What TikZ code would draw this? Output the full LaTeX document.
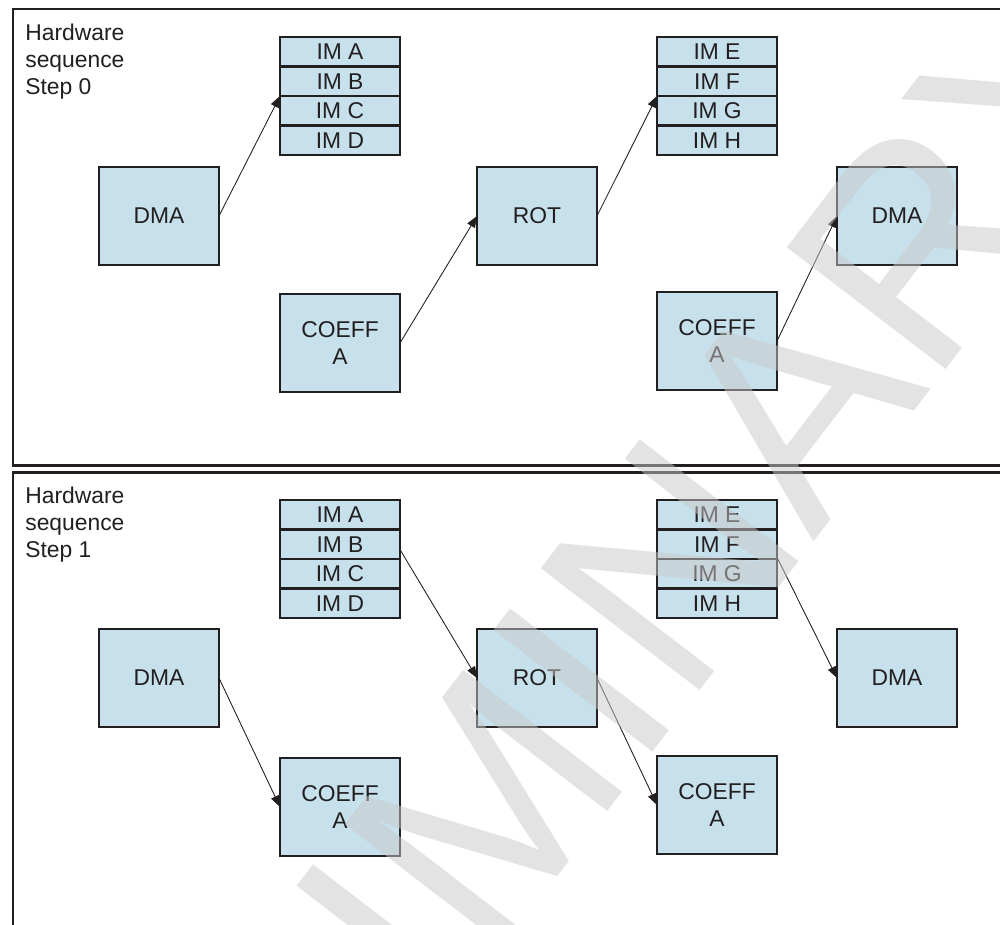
\documentclass[tikz,border=0pt]{standalone}
\usepackage{fontspec}
\setmainfont{Liberation Sans}
\usetikzlibrary{arrows.meta,positioning}
\definecolor{boxblue}{RGB}{198,225,236}
\definecolor{inkgray}{RGB}{35,31,32}
\definecolor{wmgray}{RGB}{200,200,200}
\tikzset{
  panel/.style={draw=inkgray,line width=1.7pt},
  unit/.style={draw=inkgray,fill=boxblue,line width=1.2pt,minimum width=2.4cm,minimum height=1.96cm,align=center,inner sep=0pt,outer sep=0pt,text=inkgray,font=\fontsize{13}{15}\selectfont},
  imrow/.style={unit,minimum height=0.59cm},
  caption/.style={anchor=north west,align=left,inner sep=0pt,text=inkgray,font=\fontsize{13}{15.2}\selectfont},
  arrow/.style={-{Triangle[length=6.5pt,width=5pt]},line width=0.5pt,draw=inkgray},
  watermark/.style={inner sep=0pt,text=wmgray,text opacity=0.5,font=\fontsize{165.6}{166}\selectfont}
}

\begin{document}
\begin{tikzpicture}[x=0.02cm,y=-0.02cm]
\useasboundingbox (0,0) rectangle (1000,924);
\clip (0,0) rectangle (1000,924);
\fill[white] (0,0) rectangle (1000,924);

% Step 0 panel
\draw[panel] (13,9) rectangle (1020,465);
\node[caption] (cap0) at (25,24) {Hardware\\sequence\\Step 0};
\foreach \n [count=\i from 0] in {A,B,C,D}
  \node[imrow] (im\n0) at (340,{51.75+29.5*\i}) {IM \n};
\foreach \n [count=\i from 0] in {E,F,G,H}
  \node[imrow] (im\n0) at (717,{51.75+29.5*\i}) {IM \n};
\node[unit] (dmaL0) at (159,216) {DMA};
\node[unit] (rot0) at (537,216) {ROT};
\node[unit] (dmaR0) at (897,216) {DMA};
\node[unit] (coeffL0) at (340,343) {COEFF\\A};
\node[unit] (coeffR0) at (717,341) {COEFF\\A};
\draw[arrow] (dmaL0.east) -- (imB0.south west);
\draw[arrow] (coeffL0.east) -- (rot0.west);
\draw[arrow] (rot0.east) -- (imF0.south west);
\draw[arrow] (coeffR0.east) -- (dmaR0.west);

% Step 1 panel
\draw[panel] (13,472) rectangle (1020,940);
\node[caption] (cap1) at (25,487) {Hardware\\sequence\\Step 1};
\foreach \n [count=\i from 0] in {A,B,C,D}
  \node[imrow] (im\n1) at (340,{514.75+29.5*\i}) {IM \n};
\foreach \n [count=\i from 0] in {E,F,G,H}
  \node[imrow] (im\n1) at (717,{514.75+29.5*\i}) {IM \n};
\node[unit] (dmaL1) at (159,678) {DMA};
\node[unit] (rot1) at (537,678) {ROT};
\node[unit] (dmaR1) at (897,678) {DMA};
\node[unit] (coeffL1) at (340,807) {COEFF\\A};
\node[unit] (coeffR1) at (717,805) {COEFF\\A};
\draw[arrow] (dmaL1.east) -- (coeffL1.west);
\draw[arrow] ([yshift=-3pt]imB1.east) -- (rot1.west);
\draw[arrow] (rot1.east) -- (coeffR1.west);
\draw[arrow] ([yshift=1pt]imF1.south east) -- (dmaR1.west);

% watermark
\node[watermark,rotate=52.5,anchor=base west] (wm) at (-23,1633) {PRELIMINARY};
\end{tikzpicture}
\end{document}
